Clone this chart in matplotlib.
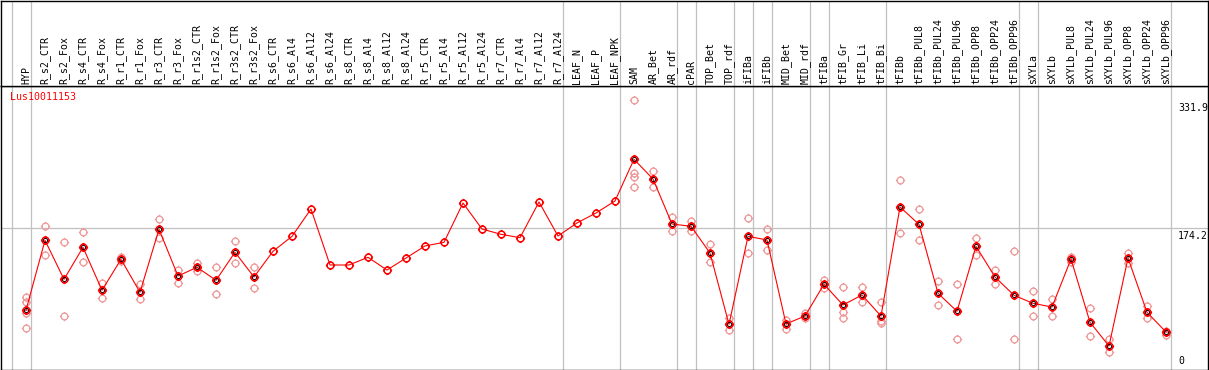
import matplotlib
matplotlib.use('Agg')
import matplotlib.pyplot as plt
from matplotlib.path import Path
import numpy as np

gene = 'Lus10011153'

categories = [
    'HYP', 'R_s2_CTR', 'R_s2_Fox', 'R_s4_CTR', 'R_s4_Fox', 'R_r1_CTR', 'R_r1_Fox',
    'R_r3_CTR', 'R_r3_Fox', 'R_r1s2_CTR', 'R_r1s2_Fox', 'R_r3s2_CTR', 'R_r3s2_Fox',
    'R_s6_CTR', 'R_s6_Al4', 'R_s6_Al12', 'R_s6_Al24', 'R_s8_CTR', 'R_s8_Al4',
    'R_s8_Al12', 'R_s8_Al24', 'R_r5_CTR', 'R_r5_Al4', 'R_r5_Al12', 'R_r5_Al24',
    'R_r7_CTR', 'R_r7_Al4', 'R_r7_Al12', 'R_r7_Al24', 'LEAF_N', 'LEAF_P', 'LEAF_NPK',
    'SAM', 'AR_Bet', 'AR_rdf', 'cPAR', 'TOP_Bet', 'TOP_rdf', 'iFIBa', 'iFIBb',
    'MID_Bet', 'MID_rdf', 'tFIBa', 'tFIB_Gr', 'tFIB_Li', 'tFIB_Bi', 'tFIBb',
    'tFIBb_PUL8', 'tFIBb_PUL24', 'tFIBb_PUL96', 'tFIBb_OPP8', 'tFIBb_OPP24',
    'tFIBb_OPP96', 'sXYLa', 'sXYLb', 'sXYLb_PUL8', 'sXYLb_PUL24', 'sXYLb_PUL96',
    'sXYLb_OPP8', 'sXYLb_OPP24', 'sXYLb_OPP96',
]

means = [
    72.5, 158.9, 110.7, 150.2, 97.2, 135.4, 94.7, 172.5, 114.8, 125.6, 109.5, 144.1, 113.6,
    145.3, 163.8, 197.5, 128.4, 128.4, 137.9, 122.2, 137.0, 151.9, 156.4, 204.9, 172.8,
    166.3, 162.1, 206.2, 164.2, 180.3, 192.6, 207.4,
    258.9, 234.6, 179.0, 176.2, 143.2, 55.2, 163.8, 159.3, 55.6, 65.4, 104.6, 79.0, 91.4,
    65.4, 200.0, 178.6, 93.5, 71.2, 151.5, 113.6, 91.0, 81.1, 76.5, 135.8, 57.7, 28.4,
    137.0, 70.0, 45.7,
]

replicates = [
    [88.5, 83.1, 68.8, 50.2],     # HYP
    [176.2, 140.4],               # R_s2_CTR
    [156.4, 65.1],                # R_s2_Fox
    [168.8, 131.7],               # R_s4_CTR
    [105.8, 87.3],                # R_s4_Fox
    [138.6, 133.3],               # R_r1_CTR
    [104.9, 86.1],                # R_r1_Fox
    [184.8, 161.4],               # R_r3_CTR
    [122.2, 106.5],               # R_r3_Fox
    [131.2, 121.4],               # R_r1s2_CTR
    [125.6, 92.2],                # R_r1s2_Fox
    [157.7, 130.5],               # R_r3s2_CTR
    [125.6, 99.6],                # R_r3s2_Fox
    [], [], [], [], [], [], [], [], [], [], [], [], [], [], [], [], [], [], [],
    [331.9, 241.6, 237.4, 224.3], # SAM
    [244.1, 224.3],               # AR_Bet
    [188.0, 170.0],               # AR_rdf
    [183.1, 170.7],               # cPAR
    [154.3, 131.7],               # TOP_Bet
    [62.6, 47.8],                 # TOP_rdf
    [186.1, 142.8],               # iFIBa
    [172.5, 146.5],               # iFIBb
    [60.5, 49.4],                 # MID_Bet
    [69.5, 62.6],                 # MID_rdf
    [110.2, 100.0],               # tFIBa
    [100.9, 70.7, 62.6],          # tFIB_Gr
    [101.2, 82.3],                # tFIB_Li
    [82.3, 59.6, 57.2],           # tFIB_Bi
    [233.1, 167.5],               # tFIBb
    [197.2, 159.3],               # tFIBb_PUL8
    [108.3, 79.0],                # tFIBb_PUL24
    [104.6, 36.7],                # tFIBb_PUL96
    [161.4, 141.1],               # tFIBb_OPP8
    [122.2, 105.3],               # tFIBb_OPP24
    [145.7, 36.7],                # tFIBb_OPP96
    [95.9, 65.1],                 # sXYLa
    [86.4, 65.8],                 # sXYLb
    [138.6, 132.5],               # sXYLb_PUL8
    [74.9, 40.4],                 # sXYLb_PUL24
    [36.7, 20.6],                 # sXYLb_PUL96
    [142.8, 131.2],               # sXYLb_OPP8
    [78.1, 63.3],                 # sXYLb_OPP24
    [46.9, 42.3],                 # sXYLb_OPP96
]

# last category index of each tissue group (separators drawn right after)
group_ends = [-1, 0, 28, 31, 34, 35, 37, 38, 39, 41, 42, 45, 52, 53, 60]
y_ticks = [331.9, 174.2, 0]

plt.rcParams['font.family'] = ['DejaVu Sans Mono']

W, H = 1209, 370
sep = 85.7  # header / plot boundary, px from top
fig = plt.figure(figsize=(W / 100, H / 100), dpi=100)
ax = fig.add_axes([1 / W, 0.5 / H, 1207 / W, (H - sep - 0.5) / H])
hdr = fig.add_axes([1 / W, (H - sep) / H, 1207 / W, (sep - 0.5) / H])

xlim = ((1 - 26) / 19, (1208 - 26) / 19)
for a in (ax, hdr):
    a.set_xlim(*xlim)
    a.set_xticks([])
    a.set_yticks([])
    for s in a.spines.values():
        s.set_color('black')
        s.set_linewidth(1.0)
ax.set_ylim((369 - 369.5) / 0.81, (369 - 85.7) / 0.81)
hdr.set_ylim(0, 1)

# gridlines
for g in group_ends:
    for a in (ax, hdr):
        a.axvline(g + 0.25, color='#c0c0c0', lw=0.9, zorder=0)
ax.axhline(y_ticks[1], color='#c0c0c0', lw=0.9, zorder=0)

# circle marker with small ticks
ring = Path.make_compound_path(
    Path.unit_circle(),
    Path([(0, 1), (0, 1.35), (0, -1), (0, -1.35), (1, 0), (1.35, 0), (-1, 0), (-1.35, 0)],
         [Path.MOVETO, Path.LINETO] * 4),
)

x = np.arange(len(categories))
for i, reps in enumerate(replicates):
    if reps:
        ax.plot([i] * len(reps), reps, ls='none', marker=ring, ms=6.6,
                mfc='none', mec='#f09696', mew=0.9, zorder=2)

ax.plot(x, means, color='red', lw=0.8, zorder=3)
has = [i for i, r in enumerate(replicates) if r]
ax.plot(x[has], np.array(means)[has], ls='none', marker='o', ms=3.0,
        mfc='none', mec='black', mew=0.7, zorder=4)
ax.plot(x, means, ls='none', marker=ring, ms=6.6, mfc='none', mec='red',
        mew=1.1, zorder=5)

# category labels in header
for i, c in enumerate(categories):
    hdr.annotate(c, xy=(i, 0), xycoords=('data', 'axes fraction'), xytext=(0, 2),
                 textcoords='offset pixels', rotation=90, ha='center', va='bottom',
                 fontsize=7.1)

# value labels on the right
for v in y_ticks:
    ax.annotate(f'{v:g}', xy=(0.9752, v), xycoords=('axes fraction', 'data'),
                xytext=(0, 3 if v == 0 else -3), textcoords='offset pixels',
                ha='left', va='bottom' if v == 0 else 'top', fontsize=7.1)

fig.text(10 / W, 1 - 97 / H, gene, color='red', fontsize=7.1, ha='left', va='center')

fig.savefig('out.png', dpi=100)
